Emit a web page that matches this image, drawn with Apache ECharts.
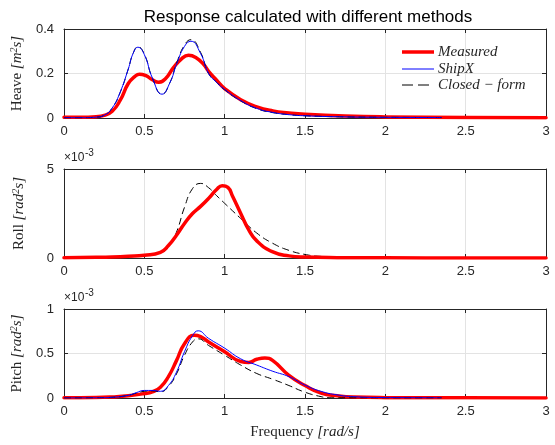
<!DOCTYPE html>
<html>
<head>
<meta charset="utf-8">
<script src="https://cdn.jsdelivr.net/npm/echarts@6/dist/echarts.min.js"></script>
<style>html,body{margin:0;padding:0;background:#fff}#c{width:555px;height:445px}</style>
</head>
<body>
<div id="c"></div>
<script>
// ---- Data ----
const titleText = 'Response calculated with different methods';
const xTicks = [0, 0.5, 1, 1.5, 2, 2.5, 3];

// Heave
const heaveMeasFreq = [0, 0.1, 0.2, 0.25, 0.3, 0.35, 0.4, 0.44, 0.47, 0.51, 0.55, 0.59, 0.63, 0.68, 0.73, 0.775, 0.82, 0.87, 0.9, 0.95, 1.0, 1.1, 1.2, 1.3, 1.4, 1.5, 1.75, 2.0, 2.5, 3.0];
const heaveMeas = [0.003, 0.003, 0.006, 0.012, 0.03, 0.08, 0.155, 0.186, 0.197, 0.19, 0.172, 0.161, 0.175, 0.225, 0.265, 0.282, 0.272, 0.24, 0.21, 0.17, 0.132, 0.082, 0.05, 0.032, 0.023, 0.017, 0.009, 0.005, 0.002, 0.001];
const heaveShipFreq = [0, 0.1, 0.2, 0.25, 0.3, 0.35, 0.4, 0.43, 0.46, 0.5, 0.55, 0.61, 0.66, 0.7, 0.75, 0.79, 0.85, 0.9, 0.95, 1.0, 1.1, 1.2, 1.3, 1.4, 1.5, 1.75, 2.0, 2.35];
const heaveShip = [0.001, 0.001, 0.004, 0.012, 0.045, 0.117, 0.22, 0.29, 0.318, 0.285, 0.18, 0.107, 0.16, 0.24, 0.322, 0.345, 0.29, 0.2, 0.16, 0.128, 0.078, 0.043, 0.025, 0.015, 0.01, 0.005, 0.003, 0.002];
const heaveClosedFreq = [0, 0.1, 0.2, 0.25, 0.3, 0.35, 0.4, 0.43, 0.46, 0.5, 0.55, 0.61, 0.66, 0.7, 0.75, 0.79, 0.85, 0.9, 0.95, 1.0, 1.1, 1.2, 1.3, 1.4, 1.5, 1.75, 2.0, 2.35];
const heaveClosed = [0.001, 0.001, 0.004, 0.012, 0.045, 0.115, 0.22, 0.29, 0.32, 0.287, 0.18, 0.107, 0.16, 0.245, 0.328, 0.352, 0.295, 0.2, 0.16, 0.127, 0.077, 0.042, 0.024, 0.015, 0.01, 0.005, 0.003, 0.002];

// Roll (x1e-3)
const rollMeasFreq = [0, 0.2, 0.3, 0.4, 0.5, 0.6, 0.65, 0.7, 0.75, 0.8, 0.85, 0.9, 0.95, 0.985, 1.02, 1.05, 1.1, 1.15, 1.2, 1.3, 1.4, 1.5, 1.7, 2.0, 2.5, 3.0];
const rollMeas = [0.02, 0.04, 0.06, 0.1, 0.16, 0.32, 0.7, 1.28, 1.94, 2.5, 2.9, 3.35, 3.85, 4.06, 3.97, 3.45, 2.5, 1.58, 0.96, 0.34, 0.12, 0.05, 0.02, 0.01, 0.005, 0.003];
const rollClosedFreq = [0, 0.2, 0.4, 0.5, 0.6, 0.65, 0.7, 0.75, 0.8, 0.85, 0.9, 0.95, 1.0, 1.1, 1.2, 1.3, 1.4, 1.5, 1.6, 1.8, 2.0, 2.35];
const rollClosed = [0, 0.01, 0.06, 0.17, 0.3, 0.6, 1.45, 2.85, 3.9, 4.19, 3.95, 3.5, 3.07, 2.22, 1.4, 0.82, 0.43, 0.2, 0.09, 0.03, 0.01, 0.003];

// Pitch (x1e-3)
const pitchMeasFreq = [0, 0.2, 0.3, 0.4, 0.5, 0.55, 0.6, 0.65, 0.7, 0.75, 0.81, 0.85, 0.9, 1.0, 1.1, 1.15, 1.2, 1.25, 1.3, 1.4, 1.5, 1.6, 1.7, 1.8, 2.0, 2.5, 3.0];
const pitchMeas = [0.002, 0.005, 0.012, 0.025, 0.05, 0.07, 0.12, 0.24, 0.42, 0.61, 0.705, 0.69, 0.63, 0.52, 0.41, 0.4, 0.435, 0.45, 0.42, 0.255, 0.14, 0.055, 0.025, 0.01, 0.004, 0.002, 0.001];
const pitchShipFreq = [0, 0.2, 0.3, 0.4, 0.45, 0.5, 0.55, 0.6, 0.65, 0.7, 0.75, 0.8, 0.835, 0.9, 1.0, 1.1, 1.2, 1.3, 1.4, 1.5, 1.6, 1.7, 1.8, 2.0, 2.35];
const pitchShip = [0, 0.002, 0.008, 0.03, 0.06, 0.085, 0.085, 0.075, 0.14, 0.29, 0.52, 0.7, 0.755, 0.67, 0.56, 0.44, 0.37, 0.3, 0.24, 0.145, 0.075, 0.035, 0.015, 0.005, 0.002];
const pitchClosedFreq = [0, 0.2, 0.3, 0.4, 0.45, 0.5, 0.55, 0.6, 0.65, 0.7, 0.75, 0.8, 0.835, 0.9, 1.0, 1.1, 1.2, 1.3, 1.4, 1.5, 1.6, 1.65, 1.8, 2.0, 2.35];
const pitchClosed = [0, 0.002, 0.008, 0.03, 0.055, 0.075, 0.08, 0.07, 0.13, 0.27, 0.48, 0.63, 0.665, 0.59, 0.48, 0.37, 0.275, 0.21, 0.14, 0.065, 0.015, 0.003, 0.001, 0.001, 0.001];

const legendNames = ['Measured', 'ShipX', 'Closed \u2212 form'];

// ---- Chart ----
const zip = (f, v) => f.map((x, i) => [x, v[i]]);
const AX = '#262626';
const GRIDC = '#e3e3e3';
const serif = '"Liberation Serif", "DejaVu Serif", serif';
const sans = '"Liberation Sans", Arial, sans-serif';
const RED = '#ff0000', BLUE = '#0000ff', BLACK = '#000000';
const DASH = [7, 4];

const grids = [
  {left: 64, right: 9, top: 29, height: 89},
  {left: 64, right: 9, top: 169, height: 89},
  {left: 64, right: 9, top: 309, height: 89}
];
const yCfg = [
  {min: 0, max: 0.4, interval: 0.2, name: '{n|Heave }{i|[m}{s|2}{i|s]}'},
  {min: 0, max: 5, interval: 5, name: '{n|Roll }{i|[rad}{s|2}{i|s]}'},
  {min: 0, max: 1, interval: 0.5, name: '{n|Pitch }{i|[rad}{s|2}{i|s]}'}
];
const richName = {
  n: {fontFamily: serif, fontSize: 15, color: AX},
  i: {fontFamily: serif, fontSize: 15, fontStyle: 'italic', color: AX},
  s: {fontFamily: serif, fontSize: 10, fontStyle: 'italic', color: AX, padding: [0, 0, 7, 0]}
};

const xAxes = [], yAxes = [];
for (let g = 0; g < 3; g++) {
  xAxes.push({
    gridIndex: g, type: 'value', min: 0, max: 3, interval: 0.5, position: 'bottom',
    axisLine: {show: true, onZero: false, lineStyle: {color: AX, width: 1}},
    axisTick: {show: true, inside: true, length: 4, lineStyle: {color: AX}},
    axisLabel: {show: true, color: AX, fontFamily: sans, fontSize: 13, margin: 7,
      formatter: v => String(v)},
    splitLine: {show: true, lineStyle: {color: GRIDC, width: 1}},
    name: g === 2 ? '{n|Frequency }{i|[rad/s]}' : '',
    nameLocation: 'middle', nameGap: 27,
    nameTextStyle: {rich: richName}
  });
  xAxes.push({
    gridIndex: g, type: 'value', min: 0, max: 3, interval: 0.5, position: 'top',
    axisLine: {show: true, onZero: false, lineStyle: {color: AX, width: 1}},
    axisTick: {show: true, inside: true, length: 4, lineStyle: {color: AX}},
    axisLabel: {show: false}, splitLine: {show: false}
  });
  yAxes.push({
    gridIndex: g, type: 'value', min: yCfg[g].min, max: yCfg[g].max, interval: yCfg[g].interval,
    position: 'left',
    axisLine: {show: true, onZero: false, lineStyle: {color: AX, width: 1}},
    axisTick: {show: true, inside: true, length: 4, lineStyle: {color: AX}},
    axisLabel: {show: true, color: AX, fontFamily: sans, fontSize: 13, margin: 10,
      formatter: v => String(+v.toFixed(3))},
    splitLine: {show: true, lineStyle: {color: GRIDC, width: 1}},
    name: yCfg[g].name, nameLocation: 'middle', nameRotate: 90, nameGap: 36,
    nameTextStyle: {rich: richName}
  });
  yAxes.push({
    gridIndex: g, type: 'value', min: yCfg[g].min, max: yCfg[g].max, interval: yCfg[g].interval,
    position: 'right',
    axisLine: {show: true, onZero: false, lineStyle: {color: AX, width: 1}},
    axisTick: {show: true, inside: true, length: 4, lineStyle: {color: AX}},
    axisLabel: {show: false}, splitLine: {show: false}
  });
}

function mk(name, g, data, kind, z) {
  const s = {
    name: name, type: 'line', xAxisIndex: 2 * g, yAxisIndex: 2 * g, data: data,
    showSymbol: false, symbol: 'none', smooth: 0.5,
    animation: false, silent: true, clip: true, z: z
  };
  if (kind === 'meas') { s.lineStyle = {color: RED, width: 3.5, cap: 'round', join: 'round'}; s.itemStyle = {color: RED}; }
  if (kind === 'ship') { s.lineStyle = {color: BLUE, width: 1}; s.itemStyle = {color: BLUE}; }
  if (kind === 'closed') { s.lineStyle = {color: BLACK, width: 1, type: DASH}; s.itemStyle = {color: BLACK}; }
  return s;
}

const series = [
  mk(legendNames[0], 0, zip(heaveMeasFreq, heaveMeas), 'meas', 2),
  mk(legendNames[1], 0, zip(heaveShipFreq, heaveShip), 'ship', 4),
  mk(legendNames[2], 0, zip(heaveClosedFreq, heaveClosed), 'closed', 3),
  mk('rollClosed', 1, zip(rollClosedFreq, rollClosed), 'closed', 3),
  mk('rollMeas', 1, zip(rollMeasFreq, rollMeas), 'meas', 5),
  mk('pitchMeas', 2, zip(pitchMeasFreq, pitchMeas), 'meas', 2),
  mk('pitchShip', 2, zip(pitchShipFreq, pitchShip), 'ship', 4),
  mk('pitchClosed', 2, zip(pitchClosedFreq, pitchClosed), 'closed', 3)
];

const expGraphic = (top) => ([
  {type: 'text', left: 64, top: top, style: {text: '\u00D710', font: '12px ' + sans, fill: AX}},
  {type: 'text', left: 85, top: top - 4, style: {text: '-3', font: '10px ' + sans, fill: AX}}
]);

// legend drawn as line samples + real text
const legY = [52, 69, 85];
const legStyles = [
  {stroke: RED, lineWidth: 3.5},
  {stroke: BLUE, lineWidth: 1},
  {stroke: BLACK, lineWidth: 1, lineDash: [11, 5]}
];
const legendGraphic = [];
legendNames.forEach((nm, i) => {
  legendGraphic.push({type: 'line', shape: {x1: 402, y1: legY[i], x2: 434, y2: legY[i]}, style: legStyles[i], z: 100});
  legendGraphic.push({type: 'text', left: 438, top: legY[i] - 7,
    style: {text: nm, font: 'italic 15px ' + serif, fill: AX}, z: 100});
});

const chart = echarts.init(document.getElementById('c'), null, {renderer: 'canvas'});
chart.setOption({
  animation: false,
  backgroundColor: '#ffffff',
  title: {text: titleText, left: 303, textAlign: 'center', top: 4,
    textStyle: {fontFamily: sans, fontSize: 17, fontWeight: 'normal', color: '#000'}},
  grid: grids,
  xAxis: xAxes,
  yAxis: yAxes,
  series: series,
  graphic: [].concat(expGraphic(152), expGraphic(292), legendGraphic)
});
</script>
</body>
</html>
